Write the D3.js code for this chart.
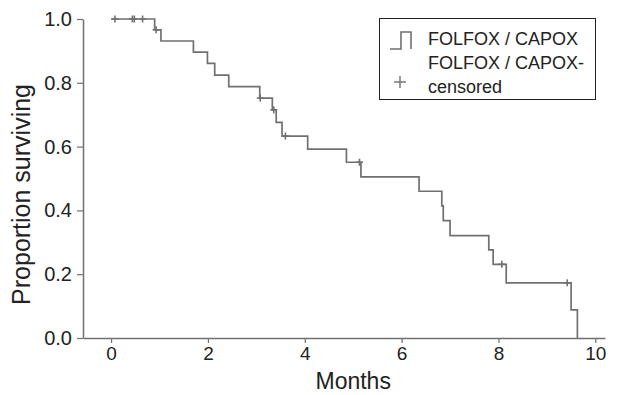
<!DOCTYPE html>
<html>
<head>
<meta charset="utf-8">
<script src="https://cdn.jsdelivr.net/npm/d3@7"></script>
<style>
  body { margin: 0; background: #fff; }
  svg { display: block; font-family: 'Liberation Sans', Arial, sans-serif; }
</style>
</head>
<body>
<svg id="chart" width="617" height="395"></svg>
<script>
// Kaplan-Meier steps: event time (months) and survival after it
let eventTimes = [0.90, 1.03, 1.70, 1.99, 2.14, 2.43, 3.07, 3.33, 3.41, 3.53,
  4.06, 4.86, 5.16, 6.36, 6.83, 6.86, 7.00, 7.80, 7.89, 8.16, 9.50, 9.63];
let survival = [0.966, 0.931, 0.896, 0.861, 0.824, 0.788, 0.752, 0.715, 0.676, 0.633,
  0.592, 0.551, 0.505, 0.460, 0.414, 0.368, 0.321, 0.276, 0.231, 0.173, 0.088, 0.0];
let censorTimes = [0.08, 0.44, 0.48, 0.65, 0.93, 3.08, 3.36, 3.60, 5.13, 8.07, 9.42];

let xTicks = [0, 2, 4, 6, 8, 10];
let yTicks = [0, 0.2, 0.4, 0.6, 0.8, 1.0];
let legendLabels = ['FOLFOX / CAPOX', ['FOLFOX / CAPOX-', 'censored']];

let LINE = '#707070';
let TEXT = '#222';

let svg = d3.select('#chart');

let x = d3.scaleLinear().domain([-0.58, 10.2]).range([83, 605]);
let y = d3.scaleLinear().domain([0, 1]).range([338, 19]);

// survival value at time t (right-continuous step)
let survAt = (t) => {
  let s = 1;
  eventTimes.forEach((e, i) => { if (e <= t) { s = survival[i]; } });
  return s;
};

let stepData = [[0, 1]].concat(eventTimes.map((t, i) => [t, survival[i]]));

// Axes
let xAxis = svg.append('g')
  .attr('transform', 'translate(0,' + y(0) + ')')
  .call(d3.axisBottom(x).tickValues(xTicks).tickFormat(d3.format('d'))
    .tickSize(5).tickSizeOuter(0).tickPadding(4));

let yAxis = svg.append('g')
  .attr('transform', 'translate(' + x.range()[0] + ',0)')
  .call(d3.axisLeft(y).tickValues(yTicks).tickFormat(d3.format('.1f'))
    .tickSize(6).tickSizeOuter(0).tickPadding(5));

[xAxis, yAxis].forEach((g) => {
  g.select('.domain').attr('stroke', LINE).attr('stroke-width', 1.5);
  g.selectAll('.tick line').attr('stroke', LINE).attr('stroke-width', 1.2);
  g.selectAll('.tick text').attr('fill', TEXT).style('font-size', '19px');
});
yAxis.selectAll('.tick text').style('font-size', '20px');

svg.append('text')
  .attr('x', x(5))
  .attr('y', 389)
  .attr('text-anchor', 'middle')
  .attr('fill', TEXT)
  .style('font-size', '23px')
  .text('Months');

svg.append('text')
  .attr('transform', 'translate(30,' + y(0.45) + ') rotate(-90)')
  .attr('text-anchor', 'middle')
  .attr('fill', TEXT)
  .style('font-size', '25px')
  .text('Proportion surviving');

// Survival curve
let line = d3.line()
  .curve(d3.curveStepAfter)
  .x((d) => x(d[0]))
  .y((d) => y(d[1]));

svg.append('path')
  .datum(stepData)
  .attr('fill', 'none')
  .attr('stroke', LINE)
  .attr('stroke-width', 1.7)
  .attr('d', line);

// Censor marks
let plus = (g, cx, cy, r) => {
  g.append('line').attr('x1', cx - r).attr('x2', cx + r).attr('y1', cy).attr('y2', cy);
  g.append('line').attr('x1', cx).attr('x2', cx).attr('y1', cy - r).attr('y2', cy + r);
};

let censors = svg.append('g')
  .attr('stroke', LINE)
  .attr('stroke-width', 1.6);
censorTimes.forEach((t) => plus(censors, x(t), y(survAt(t)), 3.5));

// Legend
let legend = svg.append('g');
legend.append('rect')
  .attr('x', 379.5).attr('y', 18.5)
  .attr('width', 216).attr('height', 81)
  .attr('fill', '#fff')
  .attr('stroke', TEXT)
  .attr('stroke-width', 1);

legend.append('path')
  .attr('d', 'M390,49 H401 V32 H411 V49')
  .attr('fill', 'none')
  .attr('stroke', LINE)
  .attr('stroke-width', 1.6);

let legendPlus = legend.append('g').attr('stroke', LINE).attr('stroke-width', 1.4);
plus(legendPlus, 400, 82, 6);

legend.append('text')
  .attr('x', 428).attr('y', 45)
  .attr('fill', TEXT)
  .style('font-size', '18px')
  .text(legendLabels[0]);

legend.append('text')
  .attr('x', 428).attr('y', 69)
  .attr('fill', TEXT)
  .style('font-size', '18px')
  .text(legendLabels[1][0]);

legend.append('text')
  .attr('x', 428).attr('y', 93)
  .attr('fill', TEXT)
  .style('font-size', '18px')
  .text(legendLabels[1][1]);
</script>
</body>
</html>
